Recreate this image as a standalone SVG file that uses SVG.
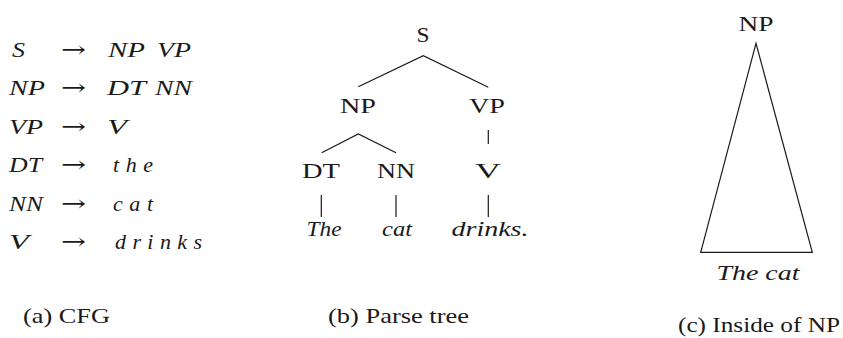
<svg xmlns="http://www.w3.org/2000/svg" width="843" height="338" viewBox="0 0 843 338" font-family="'Liberation Serif', 'DejaVu Serif', serif">
<style>
text{font-family:'Liberation Serif','DejaVu Serif',serif;font-size:22px;fill:#1a1a1a}
.m{font-style:italic}
.c{text-anchor:middle}
.ar{font-family:'DejaVu Serif','DejaVu Sans',serif;font-size:22px}
.ln{stroke:#1a1a1a;stroke-width:1.2;fill:none}
</style>
<rect width="843" height="338" fill="#fff"/>
<g id="cfg">
  <g id="rule-s"><text class="m" x="12" y="57" textLength="13" lengthAdjust="spacingAndGlyphs">S</text><text class="ar" x="61" y="57" textLength="25" lengthAdjust="spacingAndGlyphs">→</text><text class="m" x="108" y="57" textLength="37" lengthAdjust="spacingAndGlyphs">NP</text><text class="m" x="157" y="57" textLength="34" lengthAdjust="spacingAndGlyphs">VP</text></g>
  <g id="rule-np"><text class="m" x="9" y="95" textLength="36" lengthAdjust="spacingAndGlyphs">NP</text><text class="ar" x="61" y="95" textLength="25" lengthAdjust="spacingAndGlyphs">→</text><text class="m" x="107" y="95" textLength="39" lengthAdjust="spacingAndGlyphs">DT</text><text class="m" x="155" y="95" textLength="37" lengthAdjust="spacingAndGlyphs">NN</text></g>
  <g id="rule-vp"><text class="m" x="9" y="133.5" textLength="34" lengthAdjust="spacingAndGlyphs">VP</text><text class="ar" x="61" y="133.5" textLength="25" lengthAdjust="spacingAndGlyphs">→</text><text class="m" x="107" y="133.5" textLength="20" lengthAdjust="spacingAndGlyphs">V</text></g>
  <g id="rule-dt"><text class="m" x="9" y="172" textLength="33" lengthAdjust="spacingAndGlyphs">DT</text><text class="ar" x="61" y="172" textLength="25" lengthAdjust="spacingAndGlyphs">→</text><text class="m" x="113" y="172" textLength="40" lengthAdjust="spacing">the</text></g>
  <g id="rule-nn"><text class="m" x="9" y="210.5" textLength="34" lengthAdjust="spacingAndGlyphs">NN</text><text class="ar" x="61" y="210.5" textLength="25" lengthAdjust="spacingAndGlyphs">→</text><text class="m" x="113" y="210.5" textLength="40" lengthAdjust="spacing">cat</text></g>
  <g id="rule-v"><text class="m" x="9" y="249" textLength="20" lengthAdjust="spacingAndGlyphs">V</text><text class="ar" x="61" y="249" textLength="25" lengthAdjust="spacingAndGlyphs">→</text><text class="m" x="115" y="249" textLength="87" lengthAdjust="spacing">drinks</text></g>
</g>
<g id="connectors">
  <polyline class="ln" points="358.3,86.7 423.3,55.7 488.3,87.3"/>
  <polyline class="ln" points="321.7,152.7 358.3,134 396,152.7"/>
  <line class="ln" x1="488.3" y1="130" x2="488.3" y2="144"/>
  <line class="ln" x1="321.3" y1="195" x2="321.3" y2="217"/>
  <line class="ln" x1="396" y1="195" x2="396" y2="217"/>
  <line class="ln" x1="488.3" y1="195" x2="488.3" y2="217"/>
  <polygon class="ln" points="756,43.3 700.7,252.3 812.3,252.3"/>
</g>
<g id="node-s"><text class="c" x="423" y="42" textLength="13" lengthAdjust="spacingAndGlyphs">S</text></g>
<g id="node-np"><text class="c" x="358" y="113" textLength="36" lengthAdjust="spacingAndGlyphs">NP</text></g>
<g id="node-vp"><text class="c" x="487" y="113" textLength="36" lengthAdjust="spacingAndGlyphs">VP</text></g>
<g id="node-dt"><text class="c" x="321" y="178" textLength="38" lengthAdjust="spacingAndGlyphs">DT</text></g>
<g id="node-nn"><text class="c" x="396" y="178" textLength="38" lengthAdjust="spacingAndGlyphs">NN</text></g>
<g id="node-v"><text class="c" x="488" y="178" textLength="26" lengthAdjust="spacingAndGlyphs">V</text></g>
<g id="leaf-the"><text class="c m" x="324" y="236" textLength="35" lengthAdjust="spacingAndGlyphs">The</text></g>
<g id="leaf-cat"><text class="c m" x="397" y="236" textLength="30" lengthAdjust="spacingAndGlyphs">cat</text></g>
<g id="leaf-drinks"><text class="c m" x="490" y="236" textLength="77" lengthAdjust="spacingAndGlyphs">drinks.</text></g>
<g id="inside-np"><text class="c" x="756" y="31" textLength="35" lengthAdjust="spacingAndGlyphs">NP</text><text class="c m" x="758" y="280" textLength="83" lengthAdjust="spacingAndGlyphs">The cat</text></g>
<g id="captions">
  <text x="23" y="323" textLength="87" lengthAdjust="spacingAndGlyphs">(a) CFG</text>
  <text x="328" y="323" textLength="141" lengthAdjust="spacingAndGlyphs">(b) Parse tree</text>
  <text x="678" y="332" textLength="162" lengthAdjust="spacingAndGlyphs">(c) Inside of NP</text>
</g>
</svg>
